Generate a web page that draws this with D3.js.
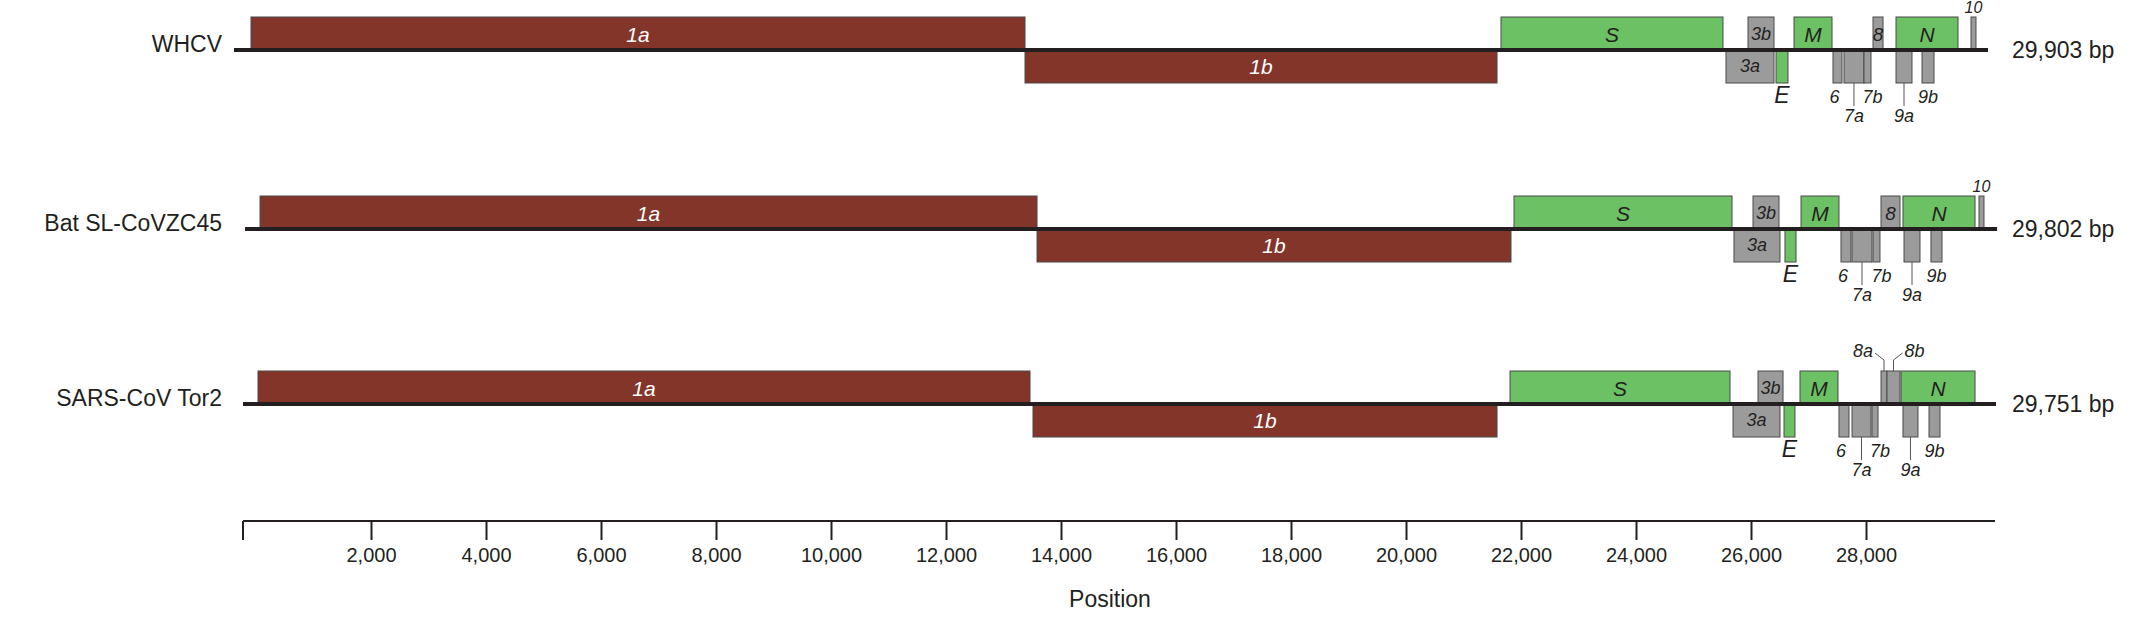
<!DOCTYPE html>
<html><head><meta charset="utf-8">
<script src="https://cdn.jsdelivr.net/npm/d3@7"></script>
<style>
body{margin:0;background:#fff}
text{font-family:"Liberation Sans",Arial,sans-serif;fill:#231f20}
.gl{font-style:italic}
</style></head>
<body><svg id="chart" width="2140" height="619"></svg>
<script>
var genomes = ["WHCV", "Bat SL-CoVZC45", "SARS-CoV Tor2"];
var lengths = ["29,903 bp", "29,802 bp", "29,751 bp"];
var lineSpan = [[-383, 30122], [-191, 30280], [-226, 30261]];
// gene: name, start, end, lane (1 above line, -1 below), kind, label placement
var geneNames = ["1a","1b","S","3a","3b","E","M","6","7a","7b","8","N","9a","9b","10"];
var geneLane  = [1,-1,1,-1,1,-1,1,-1,-1,-1,1,1,-1,-1,1];
var geneKind  = ["orf","orf","str","acc","acc","str","str","acc","acc","acc","acc","str","acc","acc","acc"];
var geneLabel = ["in","in","in","in","in","below","in","below","below2","below","in","in","below2","below","above"];
var whcvStart = [-87,13374,21652,25565,25948,26435,26748,27426,27617,27965,28122,28522,28522,28974,29826];
var whcvEnd   = [13374,21583,25513,26400,26400,26643,27409,27583,27965,28087,28296,29600,28800,29183,29913];
var batStart  = [70,13583,21878,25704,26035,26591,26870,27565,27757,28122,28261,28643,28661,29130,29965];
var batEnd    = [13583,21826,25670,26504,26487,26783,27530,27739,28104,28243,28591,29896,28939,29322,30052];
var sarsNames = ["1a","1b","S","3a","3b","E","M","6","7a","7b","8a","8b","N","9a","9b"];
var sarsLane  = [1,-1,1,-1,1,-1,1,-1,-1,-1,1,1,1,-1,-1];
var sarsKind  = ["orf","orf","str","acc","acc","str","str","acc","acc","acc","acc","acc","str","acc","acc"];
var sarsLabel = ["in","in","in","in","in","below","in","below","below2","below","left","right","in","below2","below"];
var sarsStart = [35,13513,21809,25687,26122,26574,26852,27530,27757,28104,28261,28365,28609,28643,29096];
var sarsEnd   = [13461,21583,25635,26504,26557,26765,27513,27704,28087,28209,28365,28591,29896,28904,29287];
var axisTicks = [2000,4000,6000,8000,10000,12000,14000,16000,18000,20000,22000,24000,26000,28000];

var colors = {orf: "#83352a", str: "#6cc164", acc: "#9b9b9c"};
var rowY = [50, 229, 404];
var boxH = 32;

function build(names, starts, ends, lanes, kinds, labels) {
  return names.map(function(n, i) {
    return {name: n, start: starts[i], end: ends[i], lane: lanes[i], kind: kinds[i], label: labels[i]};
  });
}
var rows = [
  build(geneNames, whcvStart, whcvEnd, geneLane, geneKind, geneLabel),
  build(geneNames, batStart, batEnd, geneLane, geneKind, geneLabel),
  build(sarsNames, sarsStart, sarsEnd, sarsLane, sarsKind, sarsLabel)
];

var svg = d3.select("#chart");
var x = d3.scaleLinear().domain([0, 28000]).range([256, 1866]);

rows.forEach(function(genes, r) {
  var g = svg.append("g").attr("transform", "translate(0," + rowY[r] + ")");
  g.append("text").attr("x", 222).attr("y", 0).attr("dy", "0.1em")
    .attr("text-anchor", "end").attr("font-size", 23).text(genomes[r]);
  g.append("text").attr("x", 2012).attr("y", 0).attr("dy", "0.35em")
    .attr("font-size", 23).text(lengths[r]);

  g.selectAll("rect").data(genes).enter().append("rect")
    .attr("x", function(d) { return x(d.start); })
    .attr("width", function(d) { return x(d.end) - x(d.start); })
    .attr("y", function(d) { return d.lane > 0 ? -boxH - 1 : 1; })
    .attr("height", boxH)
    .attr("fill", function(d) { return colors[d.kind]; })
    .attr("stroke", "#4a4a4a").attr("stroke-width", 1);

  g.append("line").attr("x1", x(lineSpan[r][0])).attr("x2", x(lineSpan[r][1]))
    .attr("y1", 0).attr("y2", 0).attr("stroke", "#231f20").attr("stroke-width", 4);

  genes.forEach(function(d) {
    var cx = (x(d.start) + x(d.end)) / 2;
    var t = g.append("text").attr("class", "gl").attr("text-anchor", "middle");
    if (d.label === "in") {
      var light = d.kind === "orf";
      t.attr("x", cx).attr("y", d.lane > 0 ? -boxH / 2 : boxH / 2).attr("dy", "0.36em")
        .attr("font-size", d.kind === "acc" ? 19 : 21)
        .style("fill", light ? "#fff" : "#231f20").text(d.name);
      if (d.kind === "acc" && d.name.length > 1) t.attr("font-size", 18);
    } else if (d.label === "below") {
      t.attr("x", cx + (d.name === "6" ? -3 : d.name === "7b" ? 5 : 0)).attr("y", boxH + 21)
        .attr("font-size", d.kind === "str" ? 23 : 18).text(d.name);
    } else if (d.label === "below2") {
      g.append("line").attr("x1", cx).attr("x2", cx).attr("y1", boxH + 1).attr("y2", boxH + 24)
        .attr("stroke", "#555").attr("stroke-width", 1);
      t.attr("x", cx).attr("y", boxH + 40).attr("font-size", 18).text(d.name);
    } else if (d.label === "above") {
      t.attr("x", cx).attr("y", -boxH - 5).attr("font-size", 16).text(d.name);
    } else {
      var dir = d.label === "left" ? -1 : 1;
      g.append("path").attr("d", "M" + cx + "," + (-boxH - 1) + "V" + (-boxH - 12) +
          "L" + (cx + dir * 9) + "," + (-boxH - 19))
        .attr("fill", "none").attr("stroke", "#555").attr("stroke-width", 1);
      t.attr("x", cx + dir * 11).attr("y", -boxH - 15)
        .attr("text-anchor", dir < 0 ? "end" : "start").attr("font-size", 18).text(d.name);
    }
  });
});

var ax = svg.append("g").attr("transform", "translate(0,521)");
ax.append("line").attr("x1", 243).attr("x2", 1995).attr("stroke", "#231f20").attr("stroke-width", 2);
ax.append("line").attr("x1", 243).attr("x2", 243).attr("y1", 0).attr("y2", 19).attr("stroke", "#231f20").attr("stroke-width", 2);
var axis = d3.axisBottom(x).tickValues(axisTicks).tickSize(19).tickPadding(8)
  .tickFormat(d3.format(","));
var axg = ax.append("g").call(axis);
axg.select(".domain").remove();
axg.selectAll(".tick line").attr("stroke", "#231f20").attr("stroke-width", 2);
axg.selectAll(".tick text").attr("font-size", 20).attr("font-family", "Liberation Sans, Arial, sans-serif").attr("fill", "#231f20");
svg.append("text").attr("x", 1110).attr("y", 607).attr("text-anchor", "middle")
  .attr("font-size", 23).text("Position");
</script></body></html>
